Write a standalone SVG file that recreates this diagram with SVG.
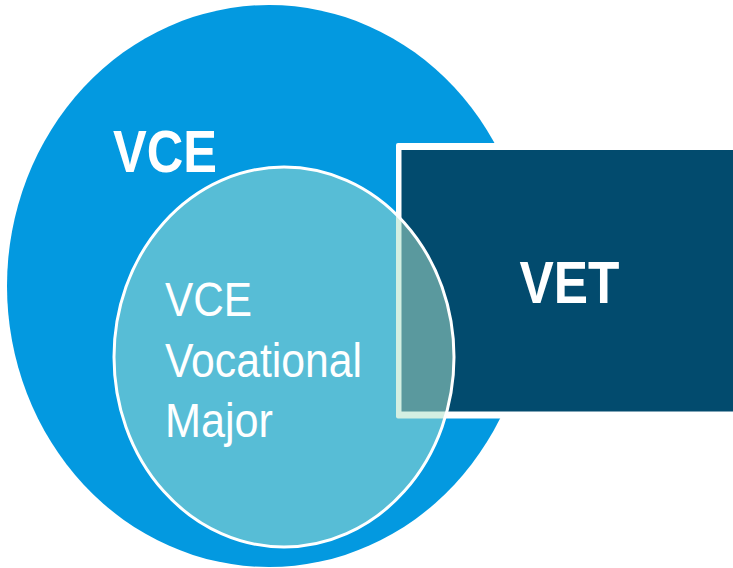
<svg xmlns="http://www.w3.org/2000/svg" width="733" height="568" viewBox="0 0 733 568">
<style>
.lbl{fill:#ffffff;font-family:"Liberation Sans",Arial,sans-serif}
.b{font-weight:bold;font-size:60px}
.r{font-size:48px}
</style>
<defs>
<clipPath id="inner"><ellipse cx="284" cy="357" rx="170" ry="190"/></clipPath>
</defs>
<rect width="733" height="568" fill="#ffffff"/>
<g id="vce">
<ellipse cx="269" cy="286" rx="262" ry="281" fill="#0399E0"/>
<text class="lbl b" x="113" y="171.5" textLength="104" lengthAdjust="spacingAndGlyphs">VCE</text>
</g>
<g id="vet">
<rect x="396" y="143" width="345" height="275.5" rx="2" fill="#ffffff"/>
<rect x="401.5" y="150" width="340" height="261.5" fill="#024B6E"/>
<text class="lbl b" x="519.5" y="303" textLength="100" lengthAdjust="spacingAndGlyphs">VET</text>
</g>
<g id="vcevm">
<ellipse cx="284" cy="357" rx="170" ry="190" fill="#57BDD6"/>
<g clip-path="url(#inner)">
<rect x="396" y="143" width="345" height="275.5" rx="2" fill="#D3EFE2"/>
<rect x="401.5" y="150" width="340" height="261.5" fill="#5A999E"/>
</g>
<ellipse cx="284" cy="357" rx="170" ry="190" fill="none" stroke="#ffffff" stroke-width="3"/>
<text class="lbl r" x="165" y="316" textLength="87" lengthAdjust="spacingAndGlyphs">VCE</text>
<text class="lbl r" x="165" y="377" textLength="197" lengthAdjust="spacingAndGlyphs">Vocational</text>
<text class="lbl r" x="165" y="436.5" textLength="108" lengthAdjust="spacingAndGlyphs">Major</text>
</g>
<g id="connectors"/>
</svg>
